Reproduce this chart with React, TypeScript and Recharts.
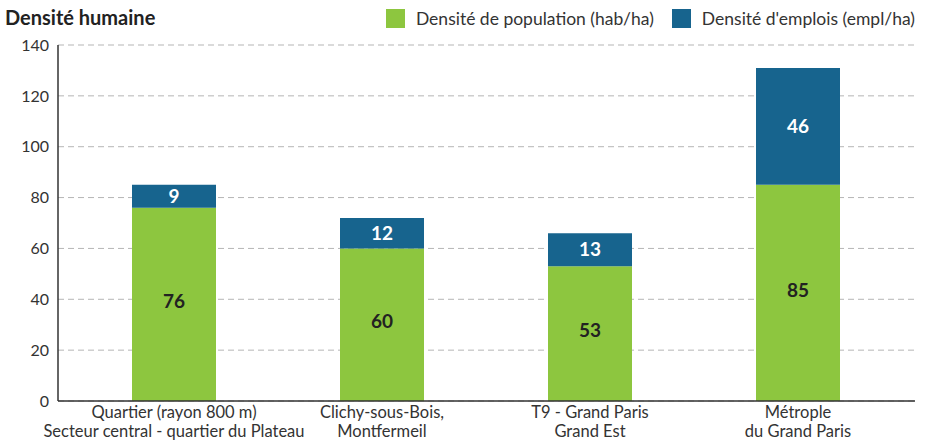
import React from 'react'
import { BarChart, Bar, XAxis, YAxis, CartesianGrid, LabelList } from 'recharts'

// Values mirror the source palette
const GREEN = '#8DC63F'
const BLUE = '#17648E'
const FONT = 'Lato, "Open Sans", sans-serif'

const categories = [
    'Quartier (rayon 800 m)\nSecteur central - quartier du Plateau',
    'Clichy-sous-Bois,\nMontfermeil',
    'T9 - Grand Paris\nGrand Est',
    'Métrople\ndu Grand Paris',
]
const population = [76, 60, 53, 85]
const emplois = [9, 12, 13, 46]
const yTicks = [0, 20, 40, 60, 80, 100, 120, 140]

const data = categories.map((name, i) => ({
    name,
    population: population[i],
    emplois: emplois[i],
}))

function CategoryTick({ x, y, payload }: any) {
    const lines = String(payload.value).split('\n')
    return (
        <text x={x} y={y} textAnchor="middle" fill="#333333" fontSize={16.5} fontFamily={FONT}>
            {lines.map((l, i) => (
                <tspan key={i} x={x} dy={i === 0 ? 9 : 19}>{l}</tspan>
            ))}
        </text>
    )
}

function LegendItem({ color, label }: { color: string; label: string }) {
    return (
        <div style={{ display: 'flex', alignItems: 'center', gap: 11, marginLeft: 18 }}>
            <div style={{ width: 19, height: 19, background: color }} />
            <span style={{ fontSize: 17.5, color: '#333333' }}>{label}</span>
        </div>
    )
}

export default function App() {
    return (
        <div style={{ position: 'absolute', left: 0, top: 0, width: 930, height: 444, background: '#FFFFFF', fontFamily: FONT }}>
            <div style={{ position: 'absolute', left: 5, top: 5, fontSize: 20, fontWeight: 700, color: '#222222' }}>
                Densité humaine
            </div>
            <div style={{ position: 'absolute', right: 15, top: 8, display: 'flex' }}>
                <LegendItem color={GREEN} label="Densité de population (hab/ha)" />
                <LegendItem color={BLUE} label="Densité d'emplois (empl/ha)" />
            </div>
            <BarChart
                width={930}
                height={444}
                data={data}
                margin={{ top: 45, right: 15, bottom: 0, left: 0 }}
                barSize={84}
            >
                <CartesianGrid vertical={false} stroke="#B5B5B5" strokeDasharray="6 4" />
                <XAxis
                    dataKey="name"
                    height={43}
                    tick={<CategoryTick />}
                    tickLine={false}
                    axisLine={{ stroke: '#333333', strokeWidth: 1.5 }}
                    padding={{ left: 12, right: 13 }}
                    interval={0}
                />
                <YAxis
                    width={58}
                    domain={[0, 140]}
                    ticks={yTicks}
                    tick={{ fill: '#333333', fontSize: 16, fontFamily: FONT }}
                    tickLine={false}
                    axisLine={{ stroke: '#333333', strokeWidth: 1.5 }}
                    tickMargin={3}
                />
                <Bar dataKey="population" stackId="a" fill={GREEN} isAnimationActive={false}>
                    <LabelList dataKey="population" position="center" offset={0} dy={-3} fill="#222222" fontSize={19} fontWeight={700} fontFamily={FONT} />
                </Bar>
                <Bar dataKey="emplois" stackId="a" fill={BLUE} isAnimationActive={false}>
                    <LabelList dataKey="emplois" position="center" fill="#FFFFFF" fontSize={19} fontWeight={700} fontFamily={FONT} />
                </Bar>
            </BarChart>
        </div>
    )
}
